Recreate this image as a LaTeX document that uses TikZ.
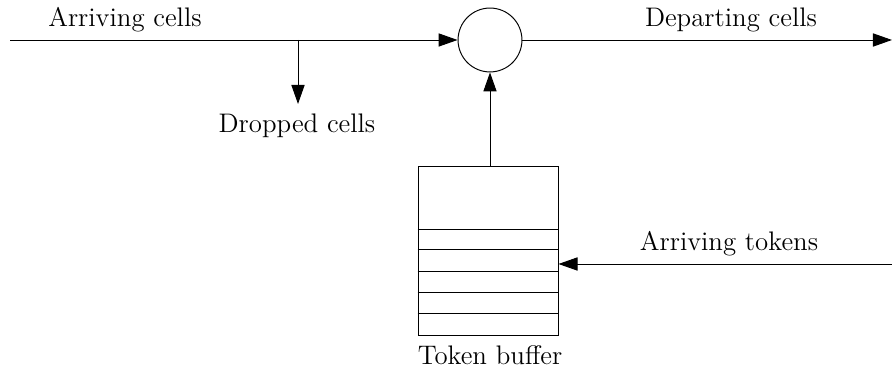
\documentclass[tikz,border=0pt]{standalone}
\usetikzlibrary{arrows.meta}
\begin{document}
\begin{tikzpicture}[x=0.41pt,y=-0.41pt,
  line width=0.4pt,
  arr/.style={-{Triangle[length=7.8pt,width=5.4pt]}},
  lbl/.style={inner sep=0pt,font=\fontsize{11}{13}\selectfont},
  server/.style={draw,circle,minimum size=26.2pt,inner sep=0pt},
  bufbox/.style={draw,rectangle,minimum width=57.4pt,minimum height=68.9pt,inner sep=0pt}]
\useasboundingbox (0,0) rectangle (892,370);
\node[server] (c) at (490,40) {};
\node[bufbox] (buf) at (488,251) {};
\foreach \yy in {229,249,271,292,313}
  \draw (buf.west |- 0,\yy) -- (buf.east |- 0,\yy);
\coordinate (in) at (10,40);
\coordinate (out) at (892,40);
\coordinate (d1) at (298,40);
\coordinate (d2) at (298,104);
\coordinate (tok) at (892,264);
\draw[arr] (in) -- (c.west);
\draw[arr] (c.east) -- (out);
\draw[arr] (d1) -- (d2);
\draw[arr] (c.south |- buf.north) -- (c.south);
\draw[arr] (tok) -- (buf.east |- tok);
\node[lbl] (t1) at (125,20) {Arriving cells};
\node[lbl] (t2) at (731,20) {Departing cells};
\node[lbl] (t3) at (297,126) {Dropped cells};
\node[lbl] (t4) at (729,244) {Arriving tokens};
\node[lbl] (t5) at (490,355) {Token buffer};
\end{tikzpicture}
\end{document}
